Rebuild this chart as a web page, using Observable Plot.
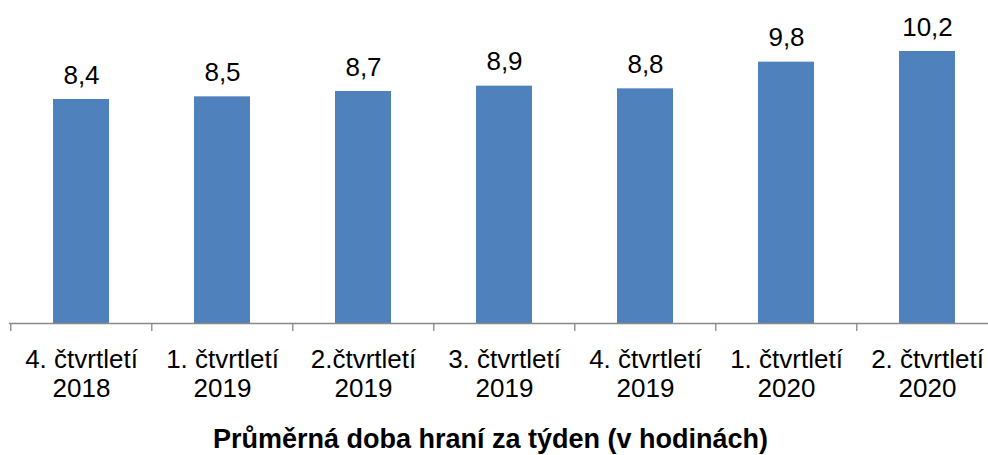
<!DOCTYPE html>
<html>
<head>
<meta charset="utf-8">
<script src="https://cdn.jsdelivr.net/npm/d3@7"></script>
<script src="https://cdn.jsdelivr.net/npm/@observablehq/plot@0.6"></script>
<style>
  html, body { margin: 0; padding: 0; background: #fff; overflow: hidden; width: 988px; height: 455px; }
  #chart { width: 988px; overflow: hidden; }
  #chart svg { display: block; max-width: none !important; }
  #title { font-family: "Liberation Sans", Arial, sans-serif; font-weight: bold; font-size: 27px; line-height: 28px; text-align: center; width: 988px; padding-right: 7px; box-sizing: border-box; margin-top: 20px; color: #000; }
</style>
</head>
<body>
<div id="chart"></div>
<div id="title">Průměrná doba hraní za týden (v hodinách)</div>
<script>
const categories = ["4. čtvrtletí\n2018", "1. čtvrtletí\n2019", "2.čtvrtletí\n2019", "3. čtvrtletí\n2019", "4. čtvrtletí\n2019", "1. čtvrtletí\n2020", "2. čtvrtletí\n2020"];
const values = [8.4, 8.5, 8.7, 8.9, 8.8, 9.8, 10.2];
const data = categories.map((c, i) => ({cat: c, v: values[i]}));

const W = 999, H = 405, ML = 9, MR = 0;
const step = (W - ML - MR) / categories.length;

const plot = Plot.plot({
  width: W,
  height: H,
  marginLeft: ML,
  marginRight: MR,
  marginTop: 3,
  marginBottom: 82,
  style: {fontFamily: "'Liberation Sans', Arial, sans-serif", fontSize: "26px", color: "#000", background: "#fff", maxWidth: "none"},
  x: {domain: categories, paddingInner: 0.6, paddingOuter: 0.3, label: null},
  y: {domain: [0, 12], axis: null},
  marks: [
    Plot.barY(data, {x: "cat", y: "v", fill: "#4F81BD"}),
    Plot.text(data, {x: "cat", y: "v", text: d => d.v.toFixed(1).replace(".", ","), lineAnchor: "bottom", dy: -16, fontSize: 26, fill: "#000"}),
    Plot.ruleY([0], {stroke: "#898989", strokeWidth: 1.3}),
    Plot.axisX({tickSize: 8, text: null, dx: -step / 2, stroke: "#898989", strokeWidth: 1.3, strokeOpacity: 1}),
    Plot.axisX({tickSize: 0, tickPadding: 24, lineHeight: 1.115, fontSize: 26, fill: "#000", label: null})
  ]
});
document.getElementById("chart").appendChild(plot);
</script>
</body>
</html>
